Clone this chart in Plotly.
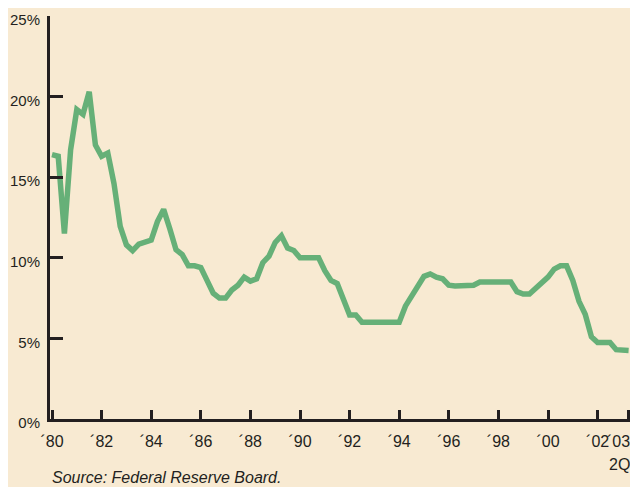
import plotly.graph_objects as go

# Quarterly prime-rate-like series, 1980Q1 .. 2003Q2 (percent)
start_year = 1980
rates = [
    16.4, 16.3, 11.5, 16.7,   # 1980
    19.2, 18.9, 20.3, 17.0,   # 1981
    16.3, 16.5, 14.6, 11.95,  # 1982
    10.8, 10.45, 10.85, 11.0, # 1983
    11.1, 12.25, 13.0, 11.8,  # 1984
    10.5, 10.2, 9.5, 9.5,     # 1985
    9.4, 8.6, 7.8, 7.5,       # 1986
    7.5, 8.0, 8.3, 8.8,       # 1987
    8.55, 8.7, 9.7, 10.1,     # 1988
    10.95, 11.37, 10.6, 10.45,# 1989
    10.0, 10.0, 10.0, 10.0,   # 1990
    9.2, 8.6, 8.4, 7.4,       # 1991
    6.45, 6.45, 6.0, 6.0,     # 1992
    6.0, 6.0, 6.0, 6.0,       # 1993
    6.0, 7.0, 7.6, 8.2,       # 1994
    8.85, 9.0, 8.8, 8.7,      # 1995
    8.3, 8.25, 8.25, 8.25,    # 1996
    8.3, 8.5, 8.5, 8.5,       # 1997
    8.5, 8.5, 8.5, 7.9,       # 1998
    7.75, 7.75, 8.1, 8.4,     # 1999
    8.8, 9.3, 9.5, 9.5,       # 2000
    8.6, 7.3, 6.5, 5.1,       # 2001
    4.75, 4.75, 4.75, 4.3,    # 2002
    4.25, 4.25,               # 2003
]
quarters = [start_year + i * 0.25 for i in range(len(rates))]

x_tick_vals = [1980, 1982, 1984, 1986, 1988, 1990, 1992, 1994, 1996, 1998, 2000, 2002, 2003.25]
x_tick_text = ["´80", "´82", "´84", "´86", "´88", "´90", "´92", "´94", "´96", "´98", "´00", "´02", ""]
last_tick_lines = ["´03", "2Q"]
y_tick_vals = [0, 5, 10, 15, 20, 25]
y_tick_text = ["0%", "5%", "10%", "15%", "20%", "25%"]
source_text = "Source: Federal Reserve Board."

BG = "#F8EAD2"
INK = "#231F20"
LINE = "#66B078"
FONT = "Liberation Sans, Arial, sans-serif"
FS = 16

fig = go.Figure()
fig.add_trace(go.Scatter(
    x=quarters, y=rates, mode="lines",
    line=dict(color=LINE, width=5.5, shape="linear"),
    hoverinfo="skip", showlegend=False,
))

fig.update_layout(
    width=630, height=479,
    margin=dict(l=42, r=8, t=8, b=67.5),
    paper_bgcolor=BG, plot_bgcolor=BG,
    font=dict(family=FONT, size=FS, color=INK),
    showlegend=False,
    xaxis=dict(
        range=[1979.919, 2003.306],
        automargin=False,
        showgrid=False, zeroline=False,
        showline=True, linecolor=INK, linewidth=2.5,
        tickmode="array", tickvals=x_tick_vals, ticktext=x_tick_text,
        ticks="inside", ticklen=9, tickwidth=2.5, tickcolor=INK,
        ticklabelstandoff=6, ticklabeloverflow="allow",
        tickfont=dict(family=FONT, size=FS, color=INK),
    ),
    yaxis=dict(
        range=[0, 25],
        automargin=False,
        showgrid=False, zeroline=False,
        showline=True, linecolor=INK, linewidth=3,
        tickmode="array", tickvals=y_tick_vals, ticktext=y_tick_text,
        ticks="inside", ticklen=13, tickwidth=2.5, tickcolor=INK,
        ticklabelshift=4, ticklabelstandoff=4, ticklabeloverflow="allow",
        tickfont=dict(family=FONT, size=15, color=INK),
    ),
    annotations=[
        dict(
            text="<i>" + source_text + "</i>",
            xref="paper", yref="paper", x=0, y=-0.145,
            xanchor="left", yanchor="middle", showarrow=False,
            font=dict(family=FONT, size=FS, color=INK),
        ),
        dict(
            text=last_tick_lines[0],
            xref="paper", yref="paper", x=1.004, y=-0.055,
            xanchor="right", yanchor="middle", showarrow=False,
            font=dict(family=FONT, size=FS, color=INK),
        ),
        dict(
            text=last_tick_lines[1],
            xref="paper", yref="paper", x=1.004, y=-0.1128,
            xanchor="right", yanchor="middle", showarrow=False,
            font=dict(family=FONT, size=FS, color=INK),
        ),
    ],
)

fig.write_html("out.html")
